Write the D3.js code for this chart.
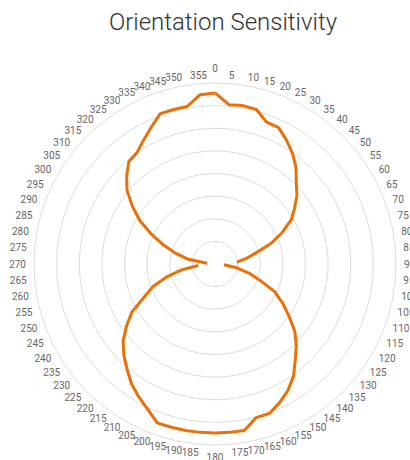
<!DOCTYPE html>
<html>
<head>
<meta charset="utf-8">
<script src="https://cdn.jsdelivr.net/npm/d3@7"></script>
<style>
  html, body { margin: 0; padding: 0; background: #fff; }
  svg { display: block; }
</style>
</head>
<body>
<svg id="chart" width="410" height="460"></svg>
<script>
// ---- data ----
const title = "Orientation Sensitivity";
const angles = d3.range(0, 360, 5); // degrees, 0..355
const sensitivity = [
  7.56, 7.07, 7.11, 7.07, 6.67, 6.65, 6.32, 5.97, 5.57, 5.08,
  4.73, 4.29, 3.89, 3.27, 2.61, 1.86, 1.41, 0.97, null, 0.40,
  0.97, 1.55, 2.12, 2.92, 3.45, 3.98, 4.60, 5.08, 5.52, 6.05,
  6.45, 6.76, 7.03, 7.03, 7.47, 7.47, 7.47, 7.47, 7.47, 7.47,
  7.47, 7.07, 6.76, 6.45, 6.05, 5.70, 5.30, 4.77, 4.24, 3.45,
  2.92, 2.21, 1.50, 0.75, null, 0.35, 1.19, 1.77, 2.39, 3.09,
  3.84, 4.46, 5.08, 5.52, 5.92, 6.01, 6.32, 6.67, 7.07, 7.07,
  7.07, 7.51
];
const ringTicks = [1, 2, 3, 4, 5, 6, 7, 8];
const angleLabels = angles.map(a => String(a));

// ---- layout ----
const svg = d3.select("#chart");
const cx = 215, cy = 264, outerR = 181, labelR = 189;

const r = d3.scaleLinear().domain([0, 8]).range([0, outerR]);
const theta = d3.scaleLinear().domain([0, 360]).range([0, 2 * Math.PI]);

const t = svg.append("text")
  .attr("x", 223).attr("y", 30)
  .attr("text-anchor", "middle")
  .attr("font-family", "Roboto, 'Open Sans', sans-serif")
  .attr("font-weight", 300)
  .attr("font-size", 24)
  .attr("fill", "#333")
  .text(title);

const g = svg.append("g").attr("transform", `translate(${cx},${cy})`);

g.selectAll("circle.ring")
  .data(ringTicks)
  .join("circle")
  .attr("class", "ring")
  .attr("r", d => r(d))
  .attr("fill", "none")
  .attr("stroke", "#dcdcdc")
  .attr("stroke-width", 1);

// angle labels
g.selectAll("text.alabel")
  .data(angles)
  .join("text")
  .attr("class", "alabel")
  .attr("font-family", "Roboto, 'Open Sans', sans-serif")
  .attr("font-size", 10)
  .attr("fill", "#666")
  .attr("dominant-baseline", "central")
  .each(function(d, i) {
    const a = theta(d);
    const s = Math.sin(a), c = Math.cos(a);
    let anchor;
    if (Math.abs(s) < 0.01 || (c > 0 && Math.abs(s) < 0.1)) anchor = "middle";
    else anchor = s > 0 ? "start" : "end";
    let y = -labelR * c;
    if (Math.abs(s) < 0.01) y += c > 0 ? -7 : 4;
    d3.select(this)
      .attr("text-anchor", anchor)
      .attr("x", labelR * s)
      .attr("y", y)
      .text(angleLabels[i]);
  });

// data line (closed back to 0, with gaps for missing values)
const pts = angles.map((a, i) => ({ a, v: sensitivity[i] }));
pts.push({ a: 360, v: sensitivity[0] });

const line = d3.lineRadial()
  .defined(d => d.v !== null)
  .angle(d => theta(d.a))
  .radius(d => r(d.v))
  .curve(d3.curveLinear);

g.append("path")
  .datum(pts)
  .attr("d", line)
  .attr("fill", "none")
  .attr("stroke", "#e8710a")
  .attr("stroke-width", 3)
  .attr("stroke-linejoin", "round");
</script>
</body>
</html>
